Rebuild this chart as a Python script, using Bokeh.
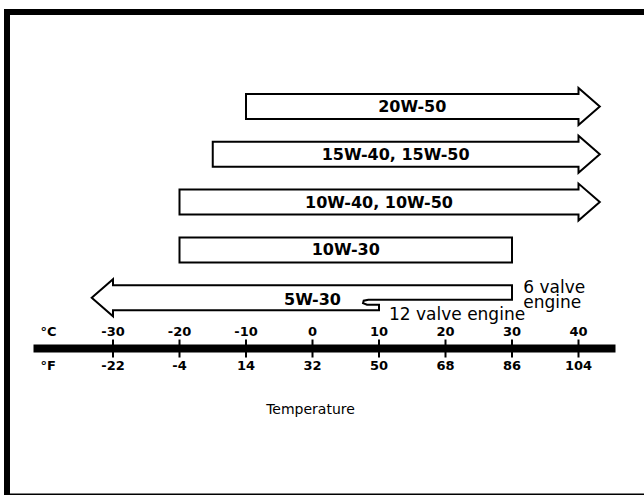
from bokeh.plotting import figure
from bokeh.models import Range1d
from bokeh.core.properties import value
from bokeh.embed import file_html
from bokeh.resources import INLINE

# Recommended engine oil grades and the ambient temperature ranges (deg C)
grades = ["20W-50", "15W-40, 15W-50", "10W-40, 10W-50", "10W-30", "5W-30"]
low_c = [-10, -15, -20, -20, -30]
high_c = [40, 40, 40, 30, 30]
open_low = [False, False, False, False, True]
open_high = [True, True, True, False, False]
# 5W-30: upper limit for the 12 valve engine (the 6 valve engine uses high_c)
high_c_12valve = 10

celsius_ticks = [-30, -20, -10, 0, 10, 20, 30, 40]
celsius_labels = ["-30", "-20", "-10", "0", "10", "20", "30", "40"]
fahrenheit_labels = ["-22", "-4", "14", "32", "50", "68", "86", "104"]

# ---- layout (screen pixels; y runs downward) ----
W, H = 644, 495
X0, XS = 312.0, 6.65         # pixel of 0 deg C, pixels per deg C


def cx(px):
    """horizontal pixel -> deg C"""
    return (px - X0) / XS


ROW_TOP, ROW_STEP = 106.0, 47.8
HALF, FLARE, HEAD = 12.5, 6.0, 3.2
AXIS_Y, AXIS_LO, AXIS_HI = 348.0, cx(33), cx(615)
FONT = value("DejaVu Sans")

p = figure(width=W, height=H, output_backend="svg", toolbar_location=None,
           x_range=Range1d(cx(0), cx(W)), y_range=Range1d(H, 0),
           x_axis_type=None, y_axis_type=None, min_border=0,
           outline_line_color=None, background_fill_color="white",
           border_fill_color="white")
p.grid.visible = False

# ---- frame ----
p.quad(left=[cx(3.5), cx(3.5), cx(3.5)], right=[cx(9.5), cx(W), cx(W)],
       top=[8.5, 8.5, 493], bottom=[H, 14.5, 495], fill_color="black", line_color=None)

# ---- arrows ----
xs_all, ys_all, lx, ly = [], [], [], []
for i, name in enumerate(grades):
    c = ROW_TOP + i * ROW_STEP
    top, bot = c - HALF, c + HALF
    lo, hi = low_c[i], high_c[i]
    pts = []
    if open_low[i]:
        pts += [(lo, bot), (lo, bot + FLARE), (lo - HEAD, c), (lo, top - FLARE), (lo, top)]
    else:
        pts += [(lo, bot), (lo, top)]
    if open_high[i]:
        pts += [(hi, top), (hi, top - FLARE), (hi + HEAD, c), (hi, bot + FLARE), (hi, bot)]
    elif name == "5W-30":
        s = high_c_12valve
        pts += [(hi, top), (hi, c + 2), (s - 1.6, c + 2), (s - 2.3, c + 3),
                (s - 2.4, c + 5.5), (s - 1.8, c + 7), (s, c + 7), (s, bot)]
    else:
        pts += [(hi, top), (hi, bot)]
    xs_all.append([q[0] for q in pts])
    ys_all.append([q[1] for q in pts])
    lx.append((lo + hi) / 2)
    ly.append(c + (2 if name == "5W-30" else 0))

p.patches(xs=xs_all, ys=ys_all, fill_color="white", line_color="black",
          line_width=2, line_join="miter")
p.text(x=lx, y=ly, text=grades, text_font=FONT, text_font_style="bold",
       text_font_size="16px", text_align="center", text_baseline="middle",
       text_color="black")

# engine notes for 5W-30
c5 = ROW_TOP + 4 * ROW_STEP
p.text(x=[high_c[4] + 1.7, high_c[4] + 1.7], y=[c5 - 11, c5 + 4],
       text=["6 valve", "engine"], text_font=FONT, text_font_size="17px",
       text_align="left", text_baseline="middle", text_color="black")
p.text(x=[high_c_12valve + 1.5], y=[c5 + 16], text=["12 valve engine"],
       text_font=FONT, text_font_size="17px", text_align="left",
       text_baseline="middle", text_color="black")

# ---- temperature scale ----
p.line(x=[AXIS_LO, AXIS_HI], y=[AXIS_Y, AXIS_Y], line_color="black", line_width=8)
p.segment(x0=celsius_ticks, x1=celsius_ticks,
          y0=[AXIS_Y - 9] * len(celsius_ticks), y1=[AXIS_Y + 9] * len(celsius_ticks),
          line_color="black", line_width=2)
p.text(x=celsius_ticks, y=[AXIS_Y - 17] * len(celsius_ticks), text=celsius_labels,
       text_font=FONT, text_font_style="bold", text_font_size="13px",
       text_align="center", text_baseline="middle", text_color="black")
p.text(x=celsius_ticks, y=[AXIS_Y + 17] * len(celsius_ticks), text=fahrenheit_labels,
       text_font=FONT, text_font_style="bold", text_font_size="13px",
       text_align="center", text_baseline="middle", text_color="black")
p.text(x=[cx(40), cx(40)], y=[AXIS_Y - 17, AXIS_Y + 17], text=["°C", "°F"],
       text_font=FONT, text_font_style="bold", text_font_size="13px",
       text_align="left", text_baseline="middle", text_color="black")

p.text(x=[cx(310)], y=[408], text=["Temperature"], text_font=FONT,
       text_font_size="14px", text_align="center", text_baseline="middle",
       text_color="black")

open("out.html", "w").write(file_html(p, INLINE))
